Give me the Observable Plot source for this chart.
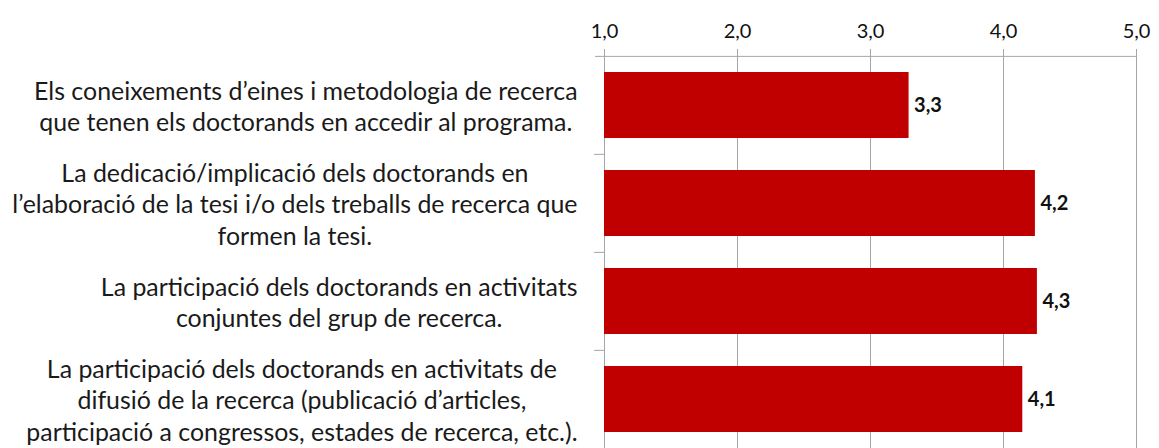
<!DOCTYPE html>
<html><head><meta charset="utf-8">
<script src="https://cdn.jsdelivr.net/npm/d3@7"></script>
<script src="https://cdn.jsdelivr.net/npm/@observablehq/plot@0.6"></script>
<style>body{margin:0;background:#fff;}</style>
</head><body><div id="chart"></div>
<script>
const categoryLines = [
  ["Els coneixements d’eines i metodologia de recerca", "que tenen els doctorands en accedir al programa."],
  ["La dedicació/implicació dels doctorands en", "l’elaboració de la tesi i/o dels treballs de recerca que", "formen la tesi."],
  ["La participació dels doctorands en activitats", "conjuntes del grup de recerca."],
  ["La participació dels doctorands en activitats de", "difusió de la recerca (publicació d’articles,", "participació a congressos, estades de recerca, etc.)."]
];
const values = [3.29, 4.24, 4.255, 4.145];
const valueLabels = ["3,3", "4,2", "4,3", "4,1"];
const xTicks = [1, 2, 3, 4, 5];
const xTickLabels = ["1,0", "2,0", "3,0", "4,0", "5,0"];

const FONT = "Lato, 'Noto Sans', sans-serif";
const labelSize = 24.9;
const W = 1159, H = 448, mTop = 55, mBottom = 0, mLeft = 604, mRight = 23;
const padInner = 0.33, padOuter = 0.165;
const step = (H - mTop - mBottom) / (categoryLines.length - padInner + 2 * padOuter);

const keys = categoryLines.map(l => l.join("\n"));
const data = keys.map((k, i) => ({key: k, value: values[i], label: valueLabels[i]}));

const ctx = document.createElement("canvas").getContext("2d");
ctx.font = `${labelSize}px ${FONT}`;
const labelRight = 577;

const labelMarks = keys.map((k, i) => {
  const maxW = d3.max(categoryLines[i], s => ctx.measureText(s).width);
  const center = labelRight - maxW / 2;
  return Plot.text([k], {
    y: d => d, frameAnchor: "left", dx: center - mLeft, text: d => d,
    textAnchor: "middle", lineAnchor: "middle", lineHeight: 1.25,
    fontSize: labelSize, fill: "#1a1a1a"
  });
});

const grid = "#a6a6a6";
const chart = Plot.plot({
  width: W, height: H,
  marginTop: mTop, marginBottom: mBottom, marginLeft: mLeft, marginRight: mRight,
  style: {fontFamily: FONT, background: "#fff"},
  x: {domain: [1, 5], axis: null},
  y: {domain: keys, paddingInner: padInner, paddingOuter: padOuter, axis: null},
  marks: [
    Plot.ruleX(xTicks, {stroke: grid, strokeWidth: 1}),
    Plot.ruleY([keys[0]], {y: d => d, dy: -step / 2, x1: 1, x2: 5, insetLeft: -9, stroke: grid}),
    Plot.ruleY(keys.slice(1), {y: d => d, dy: -step / 2, x1: 1, x2: 1, insetLeft: -10, stroke: grid}),
    Plot.axisX(xTicks, {anchor: "top", label: null, tickSize: 7, tickPadding: 11, stroke: grid, strokeOpacity: 1,
      tickFormat: d => xTickLabels[xTicks.indexOf(d)], fontSize: 20, fill: "#111"}),
    Plot.barX(data, {x1: () => xTicks[0], x2: "value", y: "key", fill: "#c00000"}),
    Plot.text(data, {x: "value", y: "key", text: "label", dx: 5, textAnchor: "start",
      fontWeight: "bold", fontSize: 20, fill: "#111"}),
    ...labelMarks
  ]
});
document.getElementById("chart").appendChild(chart);
</script>
</body></html>
